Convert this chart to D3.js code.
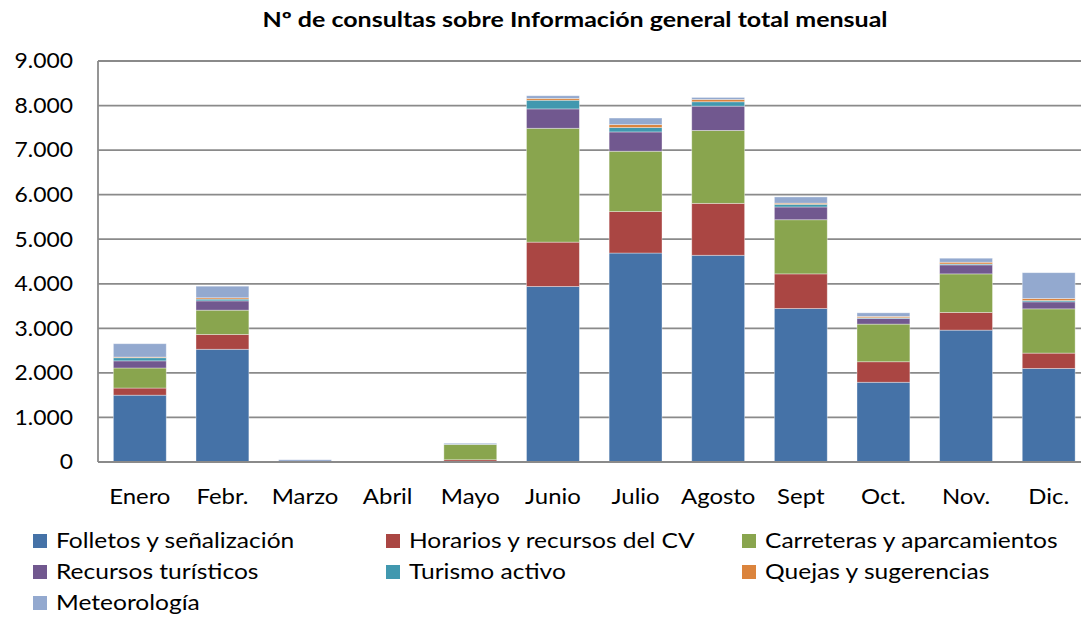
<!DOCTYPE html>
<html>
<head>
<meta charset="utf-8">
<script src="https://cdn.jsdelivr.net/npm/d3@7"></script>
<style>
  html, body { margin: 0; padding: 0; background: #ffffff; }
  svg { display: block; }
  text { font-family: Lato, "Open Sans", sans-serif; fill: #000; }
</style>
</head>
<body>
<svg id="chart" width="1081" height="618"></svg>
<script>
const months = ["Enero", "Febr.", "Marzo", "Abril", "Mayo", "Junio", "Julio", "Agosto", "Sept", "Oct.", "Nov.", "Dic."];
const seriesNames = ["Folletos y señalización", "Horarios y recursos del CV", "Carreteras y aparcamientos", "Recursos turísticos", "Turismo activo", "Quejas y sugerencias", "Meteorología"];
const folletos   = [1500, 2530, 10, 0,   5, 3940, 4690, 4640, 3445, 1790, 2960, 2100];
const horarios   = [ 160,  333,  0, 0,  45,  995,  930, 1165,  777,  460,  397,  344];
const carreteras = [ 450,  545,  0, 0, 345, 2555, 1355, 1637, 1215,  845,  865,  993];
const recursos   = [ 160,  208,  0, 0,   0,  435,  433,  545,  287,  128,  202,  157];
const turismo    = [  70,   40,  0, 0,   0,  195,   98,   98,   60,   15,   20,   30];
const quejas     = [  15,   30,  0, 0,   0,   40,   66,   52,   25,   30,   40,   45];
const meteo      = [ 300,  260, 40, 0,  25,   60,  148,   45,  140,   80,   90,  580];
const yTicks = [0, 1000, 2000, 3000, 4000, 5000, 6000, 7000, 8000, 9000];
const title = "Nº de consultas sobre Información general total mensual";

const colors = ["#4572A7", "#AA4643", "#89A54E", "#71588F", "#4198AF", "#DB843D", "#93A9CF"];
const allSeries = [folletos, horarios, carreteras, recursos, turismo, quejas, meteo];

const rows = months.map((m, i) => {
  const r = { month: m };
  seriesNames.forEach((s, j) => r[s] = allSeries[j][i]);
  return r;
});

const svg = d3.select("#chart");
const plotLeft = 98, plotRight = 1090, plotTop = 61, plotBottom = 462;

const x = d3.scaleBand().domain(months).range([plotLeft + 0.5, plotRight]).paddingInner(0.36).paddingOuter(0.18);
const y = d3.scaleLinear().domain([0, 9000]).range([plotBottom, plotTop]);

const loc = d3.formatLocale({ decimal: ",", thousands: ".", grouping: [3], currency: ["", ""] });
const fmt = loc.format(",d");

// gridlines
svg.append("g").selectAll("line").data(yTicks).join("line")
  .attr("x1", plotLeft).attr("x2", 1081)
  .attr("y1", d => y(d)).attr("y2", d => y(d))
  .attr("stroke", "#8a8a8a").attr("stroke-width", 1.8);

// y axis line
svg.append("line").attr("x1", plotLeft).attr("x2", plotLeft)
  .attr("y1", plotTop).attr("y2", plotBottom)
  .attr("stroke", "#8a8a8a").attr("stroke-width", 1.8);

// bars
const stack = d3.stack().keys(seriesNames);
const stacked = stack(rows);
svg.append("g").selectAll("g").data(stacked).join("g")
  .attr("fill", (d, i) => colors[i])
  .selectAll("rect").data(d => d).join("rect")
  .attr("x", d => x(d.data.month))
  .attr("width", x.bandwidth())
  .attr("y", d => y(d[1]))
  .attr("height", d => Math.max(0, y(d[0]) - y(d[1])))
  .attr("stroke", "rgba(255,255,255,0.45)").attr("stroke-width", 0.8);

// bottom axis line on top
svg.append("line").attr("x1", plotLeft).attr("x2", 1081)
  .attr("y1", plotBottom).attr("y2", plotBottom)
  .attr("stroke", "#8a8a8a").attr("stroke-width", 1.8);

// y tick labels
svg.append("g").selectAll("text").data(yTicks).join("text")
  .attr("transform", d => `translate(73,${y(d)}) scale(1.09,1)`)
  .attr("dy", "0.35em")
  .attr("text-anchor", "end").attr("font-size", 21)
  .text(d => fmt(d));

// x labels
svg.append("g").selectAll("text").data(months).join("text")
  .attr("transform", d => `translate(${x(d) + x.bandwidth() / 2},497) scale(1.14,1)`)
  .attr("dy", "0.35em")
  .attr("text-anchor", "middle").attr("font-size", 21)
  .text(d => d);

// title
svg.append("text").attr("transform", "translate(575,20) scale(1.19,1)").attr("dy", "0.35em")
  .attr("text-anchor", "middle").attr("font-size", 21).attr("font-weight", "bold")
  .text(title);

// legend
const legX = [33, 386, 742];
const legY = [541, 572, 603];
const leg = svg.append("g").selectAll("g").data(seriesNames).join("g")
  .attr("transform", (d, i) => `translate(${legX[i % 3]},${legY[Math.floor(i / 3)]})`);
leg.append("rect").attr("x", 0).attr("y", -7).attr("width", 14).attr("height", 14)
  .attr("fill", (d, i) => colors[i]);
leg.append("text").attr("transform", "translate(23,0) scale(1.17,1)").attr("dy", "0.35em")
  .attr("font-size", 21).text(d => d);
</script>
</body>
</html>
